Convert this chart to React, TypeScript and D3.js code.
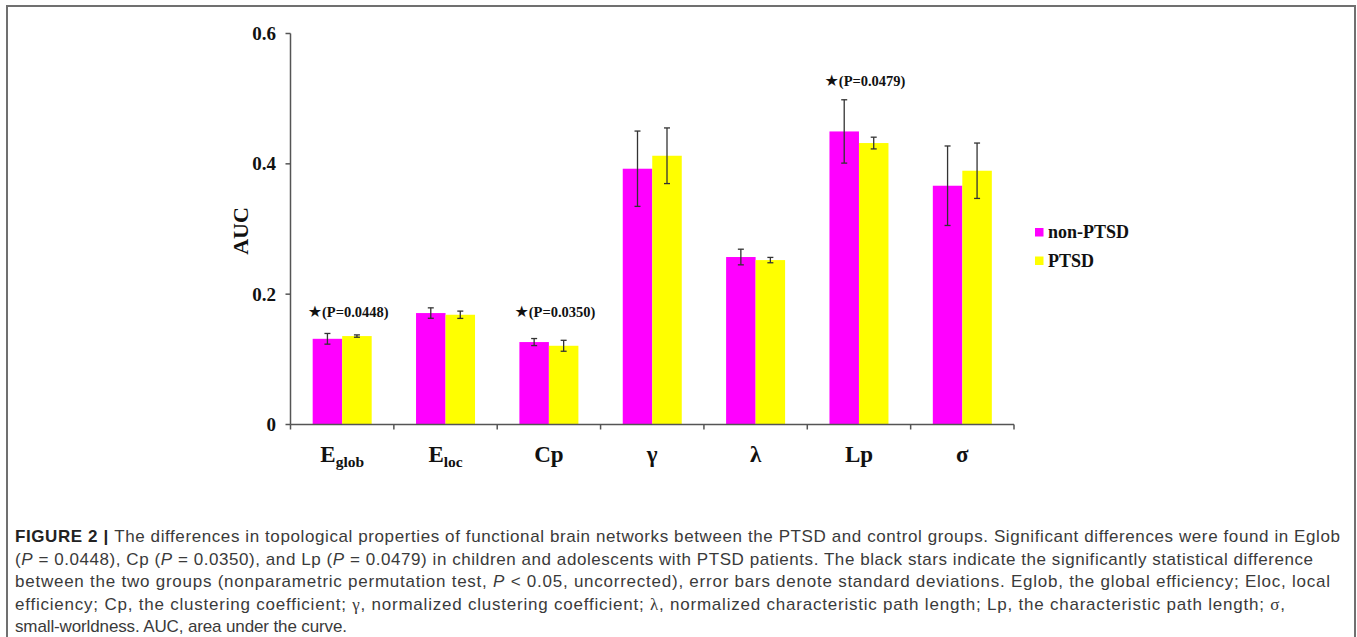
import React from "react";
import * as d3 from "d3";

const categories = ["Eglob", "Eloc", "Cp", "γ", "λ", "Lp", "σ"];
const catMain = ["E", "E", "Cp", "γ", "λ", "Lp", "σ"];
const catSub = ["glob", "loc", "", "", "", "", ""];
const seriesNames = ["non-PTSD", "PTSD"];
const seriesColors = ["#FF00FF", "#FFFF00"];
const nonPTSD = [0.1315, 0.171, 0.1265, 0.3925, 0.257, 0.4497, 0.3664];
const nonPTSDsd = [0.0082, 0.008, 0.0054, 0.0578, 0.012, 0.0486, 0.061];
const PTSD = [0.1357, 0.1684, 0.1208, 0.4124, 0.2523, 0.4319, 0.3894];
const PTSDsd = [0.0018, 0.0056, 0.0084, 0.0427, 0.0041, 0.009, 0.0425];
const yTicks = [0, 0.2, 0.4, 0.6];
const yTickLabels = ["0", "0.2", "0.4", "0.6"];
const annCats = ["Eglob", "Cp", "Lp"];
const annTexts = ["(P=0.0448)", "(P=0.0350)", "(P=0.0479)"];
const annLevels = [0.165, 0.165, 0.52];

type Seg = { t: string; b?: boolean; i?: boolean; g?: boolean };
const captionLines: Seg[][] = [
  [
    { t: "FIGURE 2 | ", b: true },
    { t: "The differences in topological properties of functional brain networks between the PTSD and control groups. Significant differences were found in Eglob" },
  ],
  [
    { t: "(" }, { t: "P", i: true }, { t: " = 0.0448), Cp (" }, { t: "P", i: true },
    { t: " = 0.0350), and Lp (" }, { t: "P", i: true },
    { t: " = 0.0479) in children and adolescents with PTSD patients. The black stars indicate the significantly statistical difference" },
  ],
  [
    { t: "between the two groups (nonparametric permutation test, " }, { t: "P", i: true },
    { t: " < 0.05, uncorrected), error bars denote standard deviations. Eglob, the global efficiency; Eloc, local" },
  ],
  [
    { t: "efficiency; Cp, the clustering coefficient; " }, { t: "γ", g: true },
    { t: ", normalized clustering coefficient; " }, { t: "λ", g: true },
    { t: ", normalized characteristic path length; Lp, the characteristic path length; " },
    { t: "σ", g: true }, { t: "," },
  ],
  [{ t: "small-worldness. AUC, area under the curve." }],
];
const captionWidths = [1325, 1298, 1315, 1270, 332];

const W = 1357;
const H = 637;
const serif = "'Liberation Serif', 'Times New Roman', serif";
const sans = "'Liberation Sans', Arial, sans-serif";

export default function App() {
  const y = d3.scaleLinear().domain([0, 0.6]).range([424.5, 33.5]);
  const x0 = d3.scaleBand<string>().domain(categories).range([290.5, 1014]).paddingInner(0).paddingOuter(0);
  const bw = x0.bandwidth();
  const barW = 29.5;
  const x1 = d3.scaleBand<string>().domain(seriesNames).range([bw / 2 - barW, bw / 2 + barW]);
  const vals = [nonPTSD, PTSD];
  const sds = [nonPTSDsd, PTSDsd];
  const axisColor = "#555";
  const boundaries = categories.map((c) => x0(c) as number).concat([1014]);

  return (
    <svg width={W} height={H} style={{ position: "absolute", left: 0, top: 0, background: "#fff" }}>
      <rect x={7} y={6} width={1348} height={700} fill="#fff" stroke="#707070" strokeWidth={2} />

      {/* bars */}
      {categories.map((c, ci) => (
        <g key={c} transform={`translate(${x0(c)},0)`}>
          {seriesNames.map((s, si) => {
            const v = vals[si][ci];
            const sd = sds[si][ci];
            const bx = x1(s) as number;
            const cx = bx + x1.bandwidth() / 2;
            return (
              <g key={s}>
                <rect x={bx} y={y(v)} width={x1.bandwidth()} height={y(0) - y(v)} fill={seriesColors[si]} />
                <line x1={cx} x2={cx} y1={y(v + sd)} y2={y(v - sd)} stroke="#333" strokeWidth={1.3} />
                <line x1={cx - 3} x2={cx + 3} y1={y(v + sd)} y2={y(v + sd)} stroke="#333" strokeWidth={1.3} />
                <line x1={cx - 3} x2={cx + 3} y1={y(v - sd)} y2={y(v - sd)} stroke="#333" strokeWidth={1.3} />
              </g>
            );
          })}
        </g>
      ))}

      {/* y axis */}
      <line x1={290.5} x2={290.5} y1={y(0.6)} y2={y(0)} stroke={axisColor} strokeWidth={1.5} />
      {yTicks.map((t, i) => (
        <g key={t}>
          <line x1={285.5} x2={290.5} y1={y(t)} y2={y(t)} stroke={axisColor} strokeWidth={1.5} />
          <text x={276} y={y(t) + 6.5} textAnchor="end" fontFamily={serif} fontWeight="bold" fontSize={19} fill="#111">
            {yTickLabels[i]}
          </text>
        </g>
      ))}
      <text transform={`translate(248,231) rotate(-90)`} textAnchor="middle" fontFamily={serif} fontWeight="bold" fontSize={22} fill="#111">
        AUC
      </text>

      {/* x axis */}
      <line x1={290.5} x2={1014} y1={y(0)} y2={y(0)} stroke={axisColor} strokeWidth={1.5} />
      {boundaries.map((bx, i) => (
        <line key={i} x1={bx} x2={bx} y1={y(0)} y2={y(0) + 5} stroke={axisColor} strokeWidth={1.5} />
      ))}
      {categories.map((c, ci) => (
        <text key={c} x={(x0(c) as number) + bw / 2} y={462} textAnchor="middle" fontFamily={serif} fontWeight="bold" fontSize={23} fill="#111">
          {catMain[ci]}
          {catSub[ci] && (
            <tspan fontSize={15.5} dy={5}>
              {catSub[ci]}
            </tspan>
          )}
        </text>
      ))}

      {/* annotations */}
      {annCats.map((c, i) => (
        <text key={c} x={(x0(c) as number) + (x1(seriesNames[0]) as number) - 5} y={y(annLevels[i])} fontFamily={serif} fontWeight="bold" fontSize={14.5} fill="#111">
          <tspan fontSize={16} fontFamily="'DejaVu Sans', sans-serif">★</tspan>
          {annTexts[i]}
        </text>
      ))}

      {/* legend */}
      {seriesNames.map((s, i) => (
        <g key={s} transform={`translate(1035,${228 + i * 28.5})`}>
          <rect x={0} y={0} width={8.5} height={8.5} fill={seriesColors[i]} />
          <text x={13} y={10} fontFamily={serif} fontWeight="bold" fontSize={18} fill="#111">
            {s}
          </text>
        </g>
      ))}

      {/* caption */}
      {captionLines.map((line, li) => (
        <text key={li} x={15} y={542 + li * 22.6} fontFamily={sans} fontSize={17} fill="#3a3a3a" textLength={captionWidths[li]} lengthAdjust="spacing">
          {line.map((s, si) => (
            <tspan key={si} fontWeight={s.b ? "bold" : "normal"} fontStyle={s.i ? "italic" : "normal"} fontFamily={s.g ? serif : undefined} fill={s.b ? "#222" : undefined}>
              {s.t}
            </tspan>
          ))}
        </text>
      ))}
    </svg>
  );
}
